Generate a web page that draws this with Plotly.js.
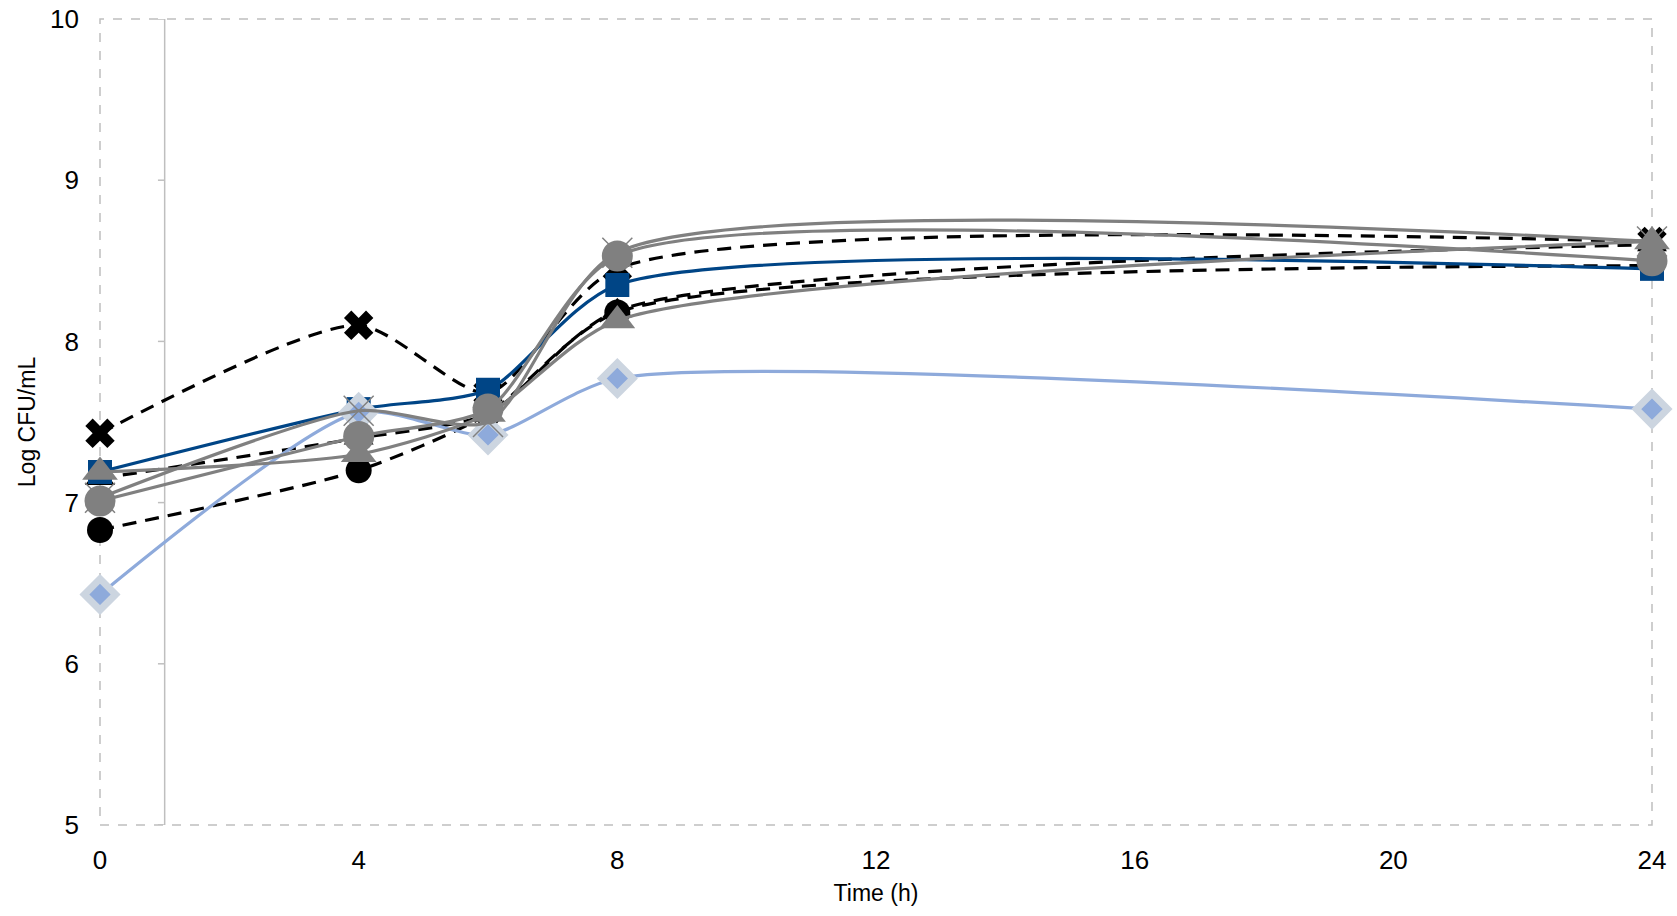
<!DOCTYPE html>
<html>
<head>
<meta charset="utf-8">
<script src="https://cdn.plot.ly/plotly-3.0.1.min.js"></script>
<style>html,body{margin:0;padding:0;background:#fff}#chart{width:1677px;height:916px}</style>
</head>
<body>
<div id="chart"></div>
<script>
// Time points (h)
var timePoints = [0, 4, 6, 8, 24];
var xTickVals = [0, 4, 8, 12, 16, 20, 24];
var yTickVals = [5, 6, 7, 8, 9, 10];

// Log CFU/mL series
var blackX        = [7.43, 8.10, 7.68, 8.45, 8.62];
var blackTriangle = [7.15, 7.40, 7.55, 8.19, 8.60];
var blackCircle   = [6.83, 7.20, 7.55, 8.18, 8.47];
var darkBlueSq    = [7.19, 7.58, 7.70, 8.35, 8.45];
var lightBlueDia  = [6.43, 7.56, 7.42, 7.77, 7.58];
var grayTriangle  = [7.19, 7.30, 7.55, 8.13, 8.62];
var grayCircle    = [7.01, 7.41, 7.58, 8.53, 8.50];
var grayX         = [7.03, 7.57, 7.50, 8.55, 8.62];

var SMOOTH = 0.68;

function tr(y, lineColor, dash, sym, mColor, mSize, mLine) {
  return {
    x: timePoints, y: y, type: 'scatter', mode: 'lines+markers',
    line: {color: lineColor, width: 3.2, dash: dash, shape: 'spline', smoothing: SMOOTH},
    marker: {symbol: sym, color: mColor, size: mSize, line: mLine || {width: 0}},
    cliponaxis: false, showlegend: false, hoverinfo: 'x+y'
  };
}

var DASH = '14px,9px';

var data = [
  tr(blackCircle, '#000000', DASH, 'circle', '#000000', 26),
  tr(blackTriangle, '#000000', DASH, 'triangle-up', '#000000', 26),
  tr(blackX, '#000000', DASH, 'x', '#000000', 26),
  tr(darkBlueSq, '#004586', 'solid', 'square', '#004586', 24),
  tr(lightBlueDia, '#8eaadb', 'solid', 'diamond', '#8eaadb', 24, {color: '#ccd5e0', width: 7}),
  tr(grayTriangle, '#808080', 'solid', 'triangle-up', '#808080', 31),
  tr(grayX, '#808080', 'solid', 'x-thin-open', '#808080', 30, {color: '#808080', width: 1.5}),
  tr(grayCircle, '#808080', 'solid', 'circle', '#808080', 31)
];

var shapes = [
  {type: 'rect', xref: 'paper', yref: 'paper', x0: 0, x1: 1, y0: 0, y1: 1,
   line: {color: '#bfbfbf', width: 1.5, dash: 'dash'}, layer: 'below'},
  {type: 'line', xref: 'x', yref: 'y', x0: 1, x1: 1, y0: 5, y1: 10,
   line: {color: '#bfbfbf', width: 1.5}, layer: 'below'}
];
yTickVals.forEach(function (v) {
  shapes.push({type: 'line', xref: 'x', yref: 'y', x0: 0.896, x1: 1, y0: v, y1: v,
    line: {color: '#bfbfbf', width: 1.5}, layer: 'below'});
});

var font = {family: 'Liberation Sans, Arial, sans-serif', color: '#000000'};

var layout = {
  width: 1677, height: 916,
  margin: {l: 100, r: 25, t: 19, b: 91},
  paper_bgcolor: '#ffffff', plot_bgcolor: '#ffffff',
  font: font,
  xaxis: {
    range: [0, 24], tickvals: xTickVals, ticktext: xTickVals.map(String),
    showgrid: false, zeroline: false, showline: false, ticks: '',
    tickfont: {family: font.family, size: 26, color: '#000'},
    ticklabelstandoff: 17,
    title: {text: 'Time (h)', font: {family: font.family, size: 23, color: '#000'}, standoff: 10}
  },
  yaxis: {
    range: [5, 10], tickvals: yTickVals, ticktext: yTickVals.map(String),
    showgrid: false, zeroline: false, showline: false, ticks: '',
    tickfont: {family: font.family, size: 26, color: '#000'},
    ticklabelstandoff: 20,
    title: {text: 'Log CFU/mL', font: {family: font.family, size: 23, color: '#000'}, standoff: 8}
  },
  shapes: shapes
};

Plotly.newPlot('chart', data, layout, {displayModeBar: false, staticPlot: true});
</script>
</body>
</html>
